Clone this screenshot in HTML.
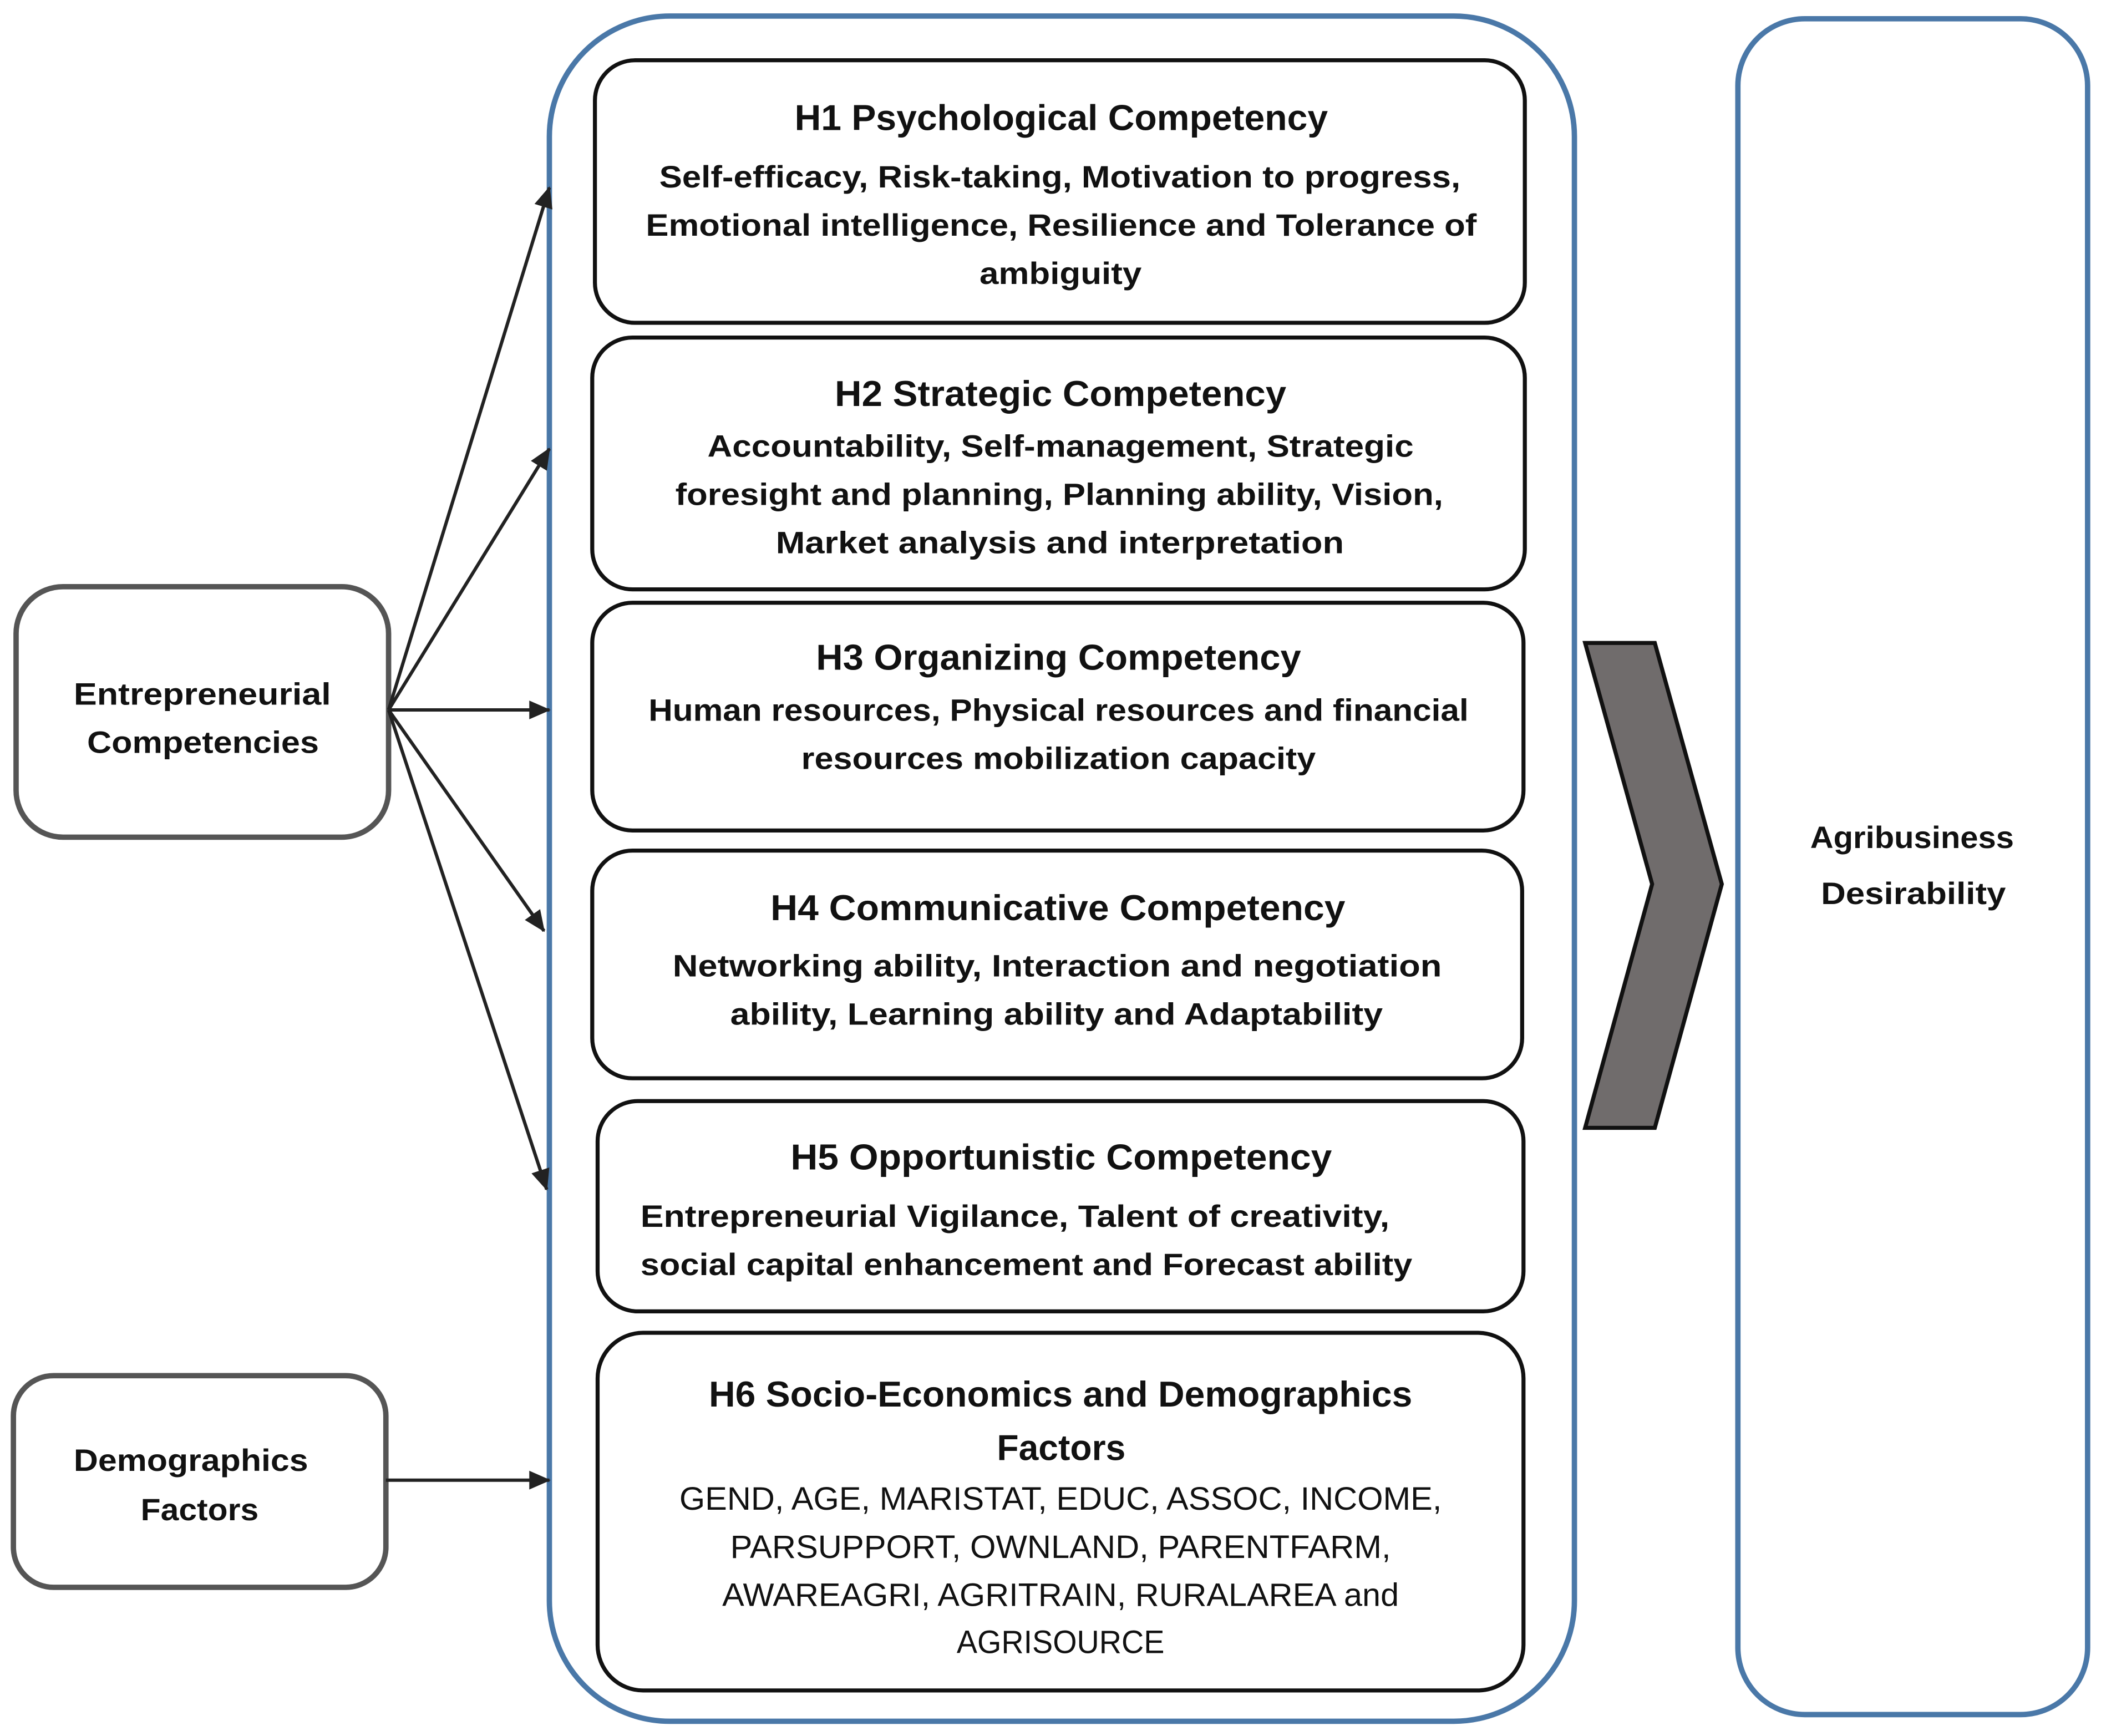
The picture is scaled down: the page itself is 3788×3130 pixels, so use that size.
<!DOCTYPE html>
<html><head><meta charset="utf-8"><style>
html,body{margin:0;padding:0;background:#fff;}
svg{display:block;}
text{font-family:"Liberation Sans",sans-serif;fill:#111;}
.t{font-size:27px;font-weight:bold;}
.b{font-size:23px;font-weight:bold;}
.n{font-size:24px;}
</style></head><body>
<svg width="3788" height="3130" viewBox="0 0 1568 1296" preserveAspectRatio="none" xmlns="http://www.w3.org/2000/svg">
<defs><marker id="a" markerWidth="10" markerHeight="10" refX="9" refY="5" orient="auto" markerUnits="userSpaceOnUse" viewBox="0 0 10 10"><path d="M0,0 L10,5 L0,10 z" fill="#222"/></marker>
<marker id="ah" markerWidth="16" markerHeight="16" refX="15" refY="8" orient="auto" markerUnits="userSpaceOnUse" viewBox="0 0 16 16"><path d="M0,1 L16,8 L0,15 z" fill="#222"/></marker></defs>
<rect x="410" y="12" width="765" height="1273" rx="90" fill="none" stroke="#4a78a8" stroke-width="4"/>
<rect x="1297" y="14" width="261" height="1266" rx="50" fill="none" stroke="#4a78a8" stroke-width="4"/>
<g fill="#fff" stroke="#111" stroke-width="3">
<rect x="444" y="45" width="694" height="196" rx="30"/>
<rect x="442" y="252" width="696" height="188" rx="30"/>
<rect x="442" y="450" width="695" height="170" rx="30"/>
<rect x="442" y="635" width="694" height="170" rx="30"/>
<rect x="446" y="822" width="691" height="157" rx="30"/>
<rect x="446" y="995" width="691" height="267" rx="34"/>
</g>
<rect x="12" y="438" width="278" height="187" rx="35" fill="#fff" stroke="#555" stroke-width="4"/>
<rect x="10" y="1027" width="278" height="158" rx="30" fill="#fff" stroke="#555" stroke-width="4"/>
<g stroke="#222" stroke-width="2.5" fill="none" marker-end="url(#ah)">
<line x1="290" y1="530" x2="410" y2="140"/>
<line x1="290" y1="530" x2="410" y2="335"/>
<line x1="290" y1="530" x2="410" y2="530"/>
<line x1="290" y1="530" x2="406" y2="695"/>
<line x1="290" y1="530" x2="408" y2="888"/>
<line x1="288" y1="1105" x2="410" y2="1105"/>
</g>
<polygon points="1183,480 1235,480 1285,660 1235,842 1183,842 1233,660" fill="#706c6c" stroke="#111" stroke-width="3"/>
<text class="t" x="593" y="97" textLength="398" lengthAdjust="spacingAndGlyphs">H1 Psychological Competency</text>
<text class="b" x="492" y="140" textLength="598" lengthAdjust="spacingAndGlyphs">Self-efficacy, Risk-taking, Motivation to progress,</text>
<text class="b" x="482" y="176" textLength="620" lengthAdjust="spacingAndGlyphs">Emotional intelligence, Resilience and Tolerance of</text>
<text class="b" x="731" y="212" textLength="121" lengthAdjust="spacingAndGlyphs">ambiguity</text>
<text class="t" x="623" y="303" textLength="337" lengthAdjust="spacingAndGlyphs">H2 Strategic Competency</text>
<text class="b" x="528" y="341" textLength="527" lengthAdjust="spacingAndGlyphs">Accountability, Self-management, Strategic</text>
<text class="b" x="504" y="377" textLength="573" lengthAdjust="spacingAndGlyphs">foresight and planning, Planning ability, Vision,</text>
<text class="b" x="579" y="413" textLength="424" lengthAdjust="spacingAndGlyphs">Market analysis and interpretation</text>
<text class="t" x="609" y="500" textLength="362" lengthAdjust="spacingAndGlyphs">H3 Organizing Competency</text>
<text class="b" x="484" y="538" textLength="612" lengthAdjust="spacingAndGlyphs">Human resources, Physical resources and financial</text>
<text class="b" x="598" y="574" textLength="384" lengthAdjust="spacingAndGlyphs">resources mobilization capacity</text>
<text class="t" x="575" y="687" textLength="429" lengthAdjust="spacingAndGlyphs">H4 Communicative Competency</text>
<text class="b" x="502" y="729" textLength="574" lengthAdjust="spacingAndGlyphs">Networking ability, Interaction and negotiation</text>
<text class="b" x="545" y="765" textLength="487" lengthAdjust="spacingAndGlyphs">ability, Learning ability and Adaptability</text>
<text class="t" x="590" y="873" textLength="404" lengthAdjust="spacingAndGlyphs">H5 Opportunistic Competency</text>
<text class="b" x="478" y="916" textLength="559" lengthAdjust="spacingAndGlyphs">Entrepreneurial Vigilance, Talent of creativity,</text>
<text class="b" x="478" y="952" textLength="576" lengthAdjust="spacingAndGlyphs">social capital enhancement and Forecast ability</text>
<text class="t" x="529" y="1050" textLength="525" lengthAdjust="spacingAndGlyphs">H6 Socio-Economics and Demographics</text>
<text class="t" x="744" y="1090" textLength="96" lengthAdjust="spacingAndGlyphs">Factors</text>
<text class="n" x="507" y="1127" textLength="569" lengthAdjust="spacingAndGlyphs">GEND, AGE, MARISTAT, EDUC, ASSOC, INCOME,</text>
<text class="n" x="545" y="1163" textLength="493" lengthAdjust="spacingAndGlyphs">PARSUPPORT, OWNLAND, PARENTFARM,</text>
<text class="n" x="539" y="1199" textLength="505" lengthAdjust="spacingAndGlyphs">AWAREAGRI, AGRITRAIN, RURALAREA and</text>
<text class="n" x="714" y="1234" textLength="155" lengthAdjust="spacingAndGlyphs">AGRISOURCE</text>
<text class="b" x="55" y="526" textLength="192" lengthAdjust="spacingAndGlyphs">Entrepreneurial</text>
<text class="b" x="65" y="562" textLength="173" lengthAdjust="spacingAndGlyphs">Competencies</text>
<text class="b" x="55" y="1098" textLength="175" lengthAdjust="spacingAndGlyphs">Demographics</text>
<text class="b" x="105" y="1135" textLength="88" lengthAdjust="spacingAndGlyphs">Factors</text>
<text class="b" x="1351" y="633" textLength="152" lengthAdjust="spacingAndGlyphs">Agribusiness</text>
<text class="b" x="1359" y="675" textLength="138" lengthAdjust="spacingAndGlyphs">Desirability</text>
</svg>
</body></html>
